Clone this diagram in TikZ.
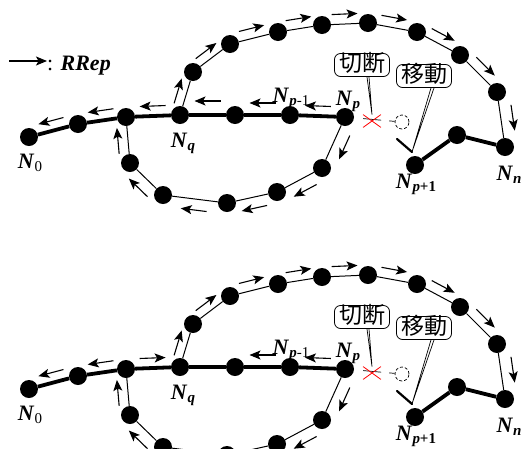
\documentclass[tikz,border=0pt]{standalone}
\usepackage{fontspec}
\setmainfont{Liberation Serif}
\newfontfamily\jpfont{Noto Sans CJK JP}
\usetikzlibrary{arrows.meta,calc,shapes.misc}

\newcommand{\Nlab}[1]{\textbf{\textit{N}}\raisebox{-.35ex}{\fontsize{15}{15}\selectfont#1}}

\begin{document}
\begin{tikzpicture}[x=1pt,y=-1pt,
    dot/.style={circle,fill=black,inner sep=0pt,minimum size=18pt},
    chain/.style={line width=3.8pt},
    link/.style={line width=1pt},
    rrep/.style={-{Stealth[length=11pt,width=9pt,inset=2.5pt]},line width=1.1pt},
    lab/.style={anchor=base,inner sep=0pt,font=\fontsize{22}{22}\selectfont},
    bubble/.style={draw,rounded corners=6pt,line width=.8pt,inner xsep=4.5pt,inner ysep=1.5pt,
        text height=16pt,text depth=4pt,font=\jpfont\fontsize{23}{23}\selectfont},
    ghost/.style={circle,draw,densely dashed,line width=.7pt,minimum size=14pt,inner sep=0pt},
    tail/.style={line width=.7pt}
]
\useasboundingbox (0,0) rectangle (523,448);
\clip (0,0) rectangle (523,448);

% legend
\coordinate (key) at (9,61);
\node[anchor=base west,inner sep=0pt] (keytext) at (47,70)
    {\fontsize{22}{22}\selectfont: \textbf{\textit{RRep}}};
\draw[rrep] (key) -- (key -| keytext.west);

\foreach \k/\dy in {a/0,b/252}{
\begin{scope}[shift={(0,\dy)},name prefix=\k-]
    % main chain
    \node[dot] (n0) at (29,137) {};
    \node[dot] (n1) at (78,124) {};
    \node[dot] (n2) at (126,117) {};
    \node[dot] (nq) at (180,115) {};
    \node[dot] (n5) at (235,115) {};
    \node[dot] (pm1) at (290,115) {};
    \node[dot] (np) at (345,117) {};
    % upper detour
    \node[dot] (u1) at (193,72) {};
    \node[dot] (u2) at (230,44) {};
    \node[dot] (u3) at (278,32) {};
    \node[dot] (u4) at (322,25) {};
    \node[dot] (u5) at (368,23) {};
    \node[dot] (u6) at (417,32) {};
    \node[dot] (u7) at (460,55) {};
    \node[dot] (u8) at (497,92) {};
    \node[dot] (nn) at (505,147) {};
    \node[dot] (m) at (457,135) {};
    \node[dot] (pp1) at (415,165) {};
    % lower detour
    \node[dot] (b5) at (322,168) {};
    \node[dot] (b4) at (277,192) {};
    \node[dot] (b3) at (227,203) {};
    \node[dot] (b2) at (163,195) {};
    \node[dot] (b1) at (130,163) {};

    \draw[chain] (n0) -- (n1) -- (n2) -- (nq) -- (n5) -- (pm1) -- (np);
    \draw[chain] (nn) -- (m) -- (pp1);
    \draw[link] (nq) -- (u1) -- (u2) -- (u3) -- (u4) -- (u5) -- (u6) -- (u7) -- (u8) -- (nn);
    \draw[link] (np) -- (b5) -- (b4) -- (b3) -- (b2) -- (b1) -- (n2);

    % RRep along the routes
    \foreach \a/\b/\s/\d in {n1/n0/270/10pt, n2/n1/270/10pt, pm1/n5/270/12pt, np/pm1/270/10pt,
        nq/u1/90/9pt, u1/u2/90/9pt, u2/u3/90/10pt, u3/u4/90/10pt, u4/u5/90/10pt,
        u5/u6/90/10pt, u6/u7/90/10pt, u7/u8/90/10pt, u8/nn/90/12pt,
        np/b5/90/12pt, b5/b4/90/12pt, b4/b3/90/11pt, b3/b2/90/11pt, b2/b1/90/12pt, b1/n2/90/10pt}
        \draw[rrep] let \p1=($(\b)-(\a)$), \n1={atan2(\y1,\x1)} in
            ($(\a)!.5!(\b)$) ++(\n1+\s:\d) ++(\n1:-13pt) -- ++(\n1:26pt);

    % labels
    \node[lab] (l0) at ($(n0)+(1,31)$) {\Nlab{0}};
    \node[lab] (lq) at ($(nq)+(3,32)$) {\Nlab{\textbf{\textit{q}}}};
    \node[lab] (lpm1) at ($(pm1)+(1,-13)$) {\Nlab{\textbf{\textit{p}}-1}};
    \node[lab] (lp) at ($(np)+(3,-12)$) {\Nlab{\textbf{\textit{p}}}};
    \node[lab] (lpp1) at ($(pp1)+(1,23)$) {\Nlab{\textbf{\textit{p}+1}}};
    \node[lab] (ln) at ($(nn)+(4,33)$) {\Nlab{\textbf{\textit{n}}}};

    % cut and move
    \node[ghost] (old) at (402,122) {};
    \draw[line width=.7pt,dash pattern=on 18pt off 8pt,shorten <=9pt] (np) -- (old);
    \node[draw=red,cross out,line width=.8pt,minimum width=17pt,minimum height=12pt,inner sep=0pt] (cut) at (372,121) {};
    \node[bubble] (cutbox) at (362,65) {切断};
    \node[bubble] (movebox) at (424,76) {移動};
    \draw[tail] ([xshift=5pt]cutbox.south) -- (cut.north) -- ([xshift=7pt]cutbox.south);
    \coordinate (dst) at (412,152);
    \draw[tail] ([xshift=7pt]movebox.south) -- (dst) -- ([xshift=10pt]movebox.south);
    \draw[line width=2.2pt,line cap=round] (dst) -- ++(-15,-13);
\end{scope}
}

% arrows that differ between the two cases
\foreach \a/\b/\s/\d in {a-nq/a-n2/270/10pt, a-n5/a-nq/270/14pt, b-n2/b-nq/90/10pt}
    \draw[rrep] let \p1=($(\b)-(\a)$), \n1={atan2(\y1,\x1)} in
        ($(\a)!.5!(\b)$) ++(\n1+\s:\d) ++(\n1:-13pt) -- ++(\n1:26pt);
\end{tikzpicture}
\end{document}
